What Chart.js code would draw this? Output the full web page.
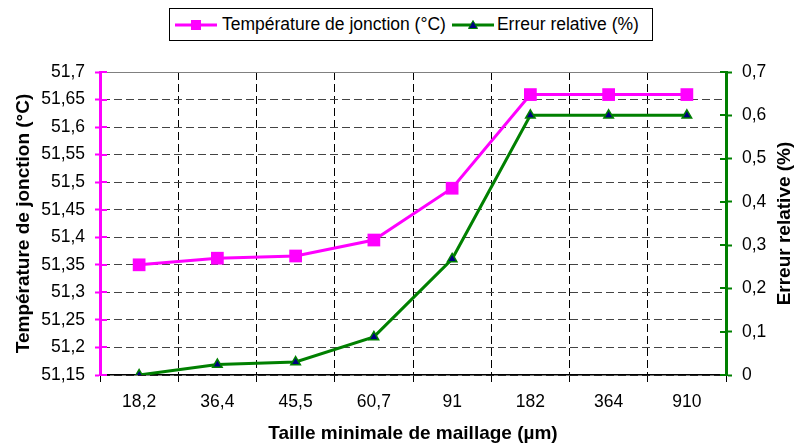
<!DOCTYPE html>
<html>
<head>
<meta charset="utf-8">
<script src="https://cdn.jsdelivr.net/npm/chart.js@4"></script>
<style>
html,body{margin:0;padding:0;background:#fff;}
#wrap{position:relative;width:795px;height:445px;overflow:hidden;}
#chart{position:absolute;left:0;top:0;}
#legend{position:absolute;left:169px;top:8px;width:484px;height:33px;border:1px solid #000;box-sizing:border-box;display:flex;align-items:center;font-family:"Liberation Sans",Arial,sans-serif;font-size:17.5px;padding:0 0 0 5px;white-space:nowrap;background:#fff;color:#000;}
#legend svg{flex:none;}
#legend span{margin-left:5px;margin-right:6px;}
</style>
</head>
<body>
<div id="wrap">
  <canvas id="chart" width="795" height="445"></canvas>
  <div id="legend"></div>
</div>
<script>
// ---- Data ----
const categories = ['18,2', '36,4', '45,5', '60,7', '91', '182', '364', '910'];
const temperature = [51.35, 51.362, 51.366, 51.395, 51.489, 51.659, 51.659, 51.659];
const relativeError = [0, 0.024, 0.03, 0.088, 0.268, 0.6, 0.6, 0.6];
const leftTicks = [51.15, 51.2, 51.25, 51.3, 51.35, 51.4, 51.45, 51.5, 51.55, 51.6, 51.65, 51.7];
const rightTicks = [0, 0.1, 0.2, 0.3, 0.4, 0.5, 0.6, 0.7];
const seriesNames = ['Température de jonction (°C)', 'Erreur relative (%)'];
const xTitle = 'Taille minimale de maillage (µm)';
const leftTitle = 'Température de jonction (°C)';
const rightTitle = 'Erreur relative (%)';

const MAGENTA = '#FF00FF', GREEN = '#008000', NAVY = '#000080';
const FONT = '"Liberation Sans", Arial, sans-serif';

function fmt(v, d) {
  return String(Number(v.toFixed(d))).replace('.', ',');
}

// ---- HTML legend ----
const legend = document.getElementById('legend');
legend.innerHTML =
  '<svg width="42" height="14"><line x1="0" y1="7" x2="42" y2="7" stroke="' + MAGENTA + '" stroke-width="3"/>' +
  '<rect x="16" y="2" width="10" height="10" fill="' + MAGENTA + '"/></svg>' +
  '<span>' + seriesNames[0] + '</span>' +
  '<svg width="42" height="14"><line x1="0" y1="7" x2="42" y2="7" stroke="' + GREEN + '" stroke-width="3"/>' +
  '<polygon points="21,2.5 25.5,10.5 16.5,10.5" fill="' + NAVY + '" stroke="' + GREEN + '" stroke-width="1"/></svg>' +
  '<span style="margin-left:3px">' + seriesNames[1] + '</span>';

Chart.defaults.font.family = FONT;
Chart.defaults.color = '#000';

const framePlugin = {
  id: 'frame',
  beforeDatasetsDraw(chart) {
    const {ctx, chartArea: a, scales} = chart;
    ctx.save();
    // top frame line (solid grey)
    ctx.strokeStyle = '#808080';
    ctx.lineWidth = 1;
    const ty = Math.round(a.top) + 0.5;
    ctx.beginPath(); ctx.moveTo(a.left, ty); ctx.lineTo(a.right, ty); ctx.stroke();
    // inward portions of the axis tick marks
    ctx.lineWidth = 2;
    ctx.strokeStyle = MAGENTA;
    scales.y.ticks.forEach(t => {
      const py = Math.round(scales.y.getPixelForValue(t.value));
      ctx.beginPath(); ctx.moveTo(a.left, py); ctx.lineTo(a.left + 7, py); ctx.stroke();
    });
    ctx.strokeStyle = GREEN;
    scales.y1.ticks.forEach(t => {
      const py = Math.round(scales.y1.getPixelForValue(t.value));
      ctx.beginPath(); ctx.moveTo(a.right - 6, py); ctx.lineTo(a.right, py); ctx.stroke();
    });
    ctx.restore();
  },
  afterDraw(chart) {
    const {ctx, chartArea: a} = chart;
    ctx.save();
    ctx.font = 'bold 19px ' + FONT;
    ctx.fillStyle = '#000';
    ctx.textAlign = 'center';
    ctx.textBaseline = 'middle';
    ctx.translate(785, (a.top + a.bottom) / 2);
    ctx.rotate(-Math.PI / 2);
    ctx.fillText(rightTitle, 0, 0);
    ctx.restore();
  }
};

new Chart(document.getElementById('chart'), {
  type: 'line',
  data: {
    labels: categories,
    datasets: [
      {
        label: seriesNames[0],
        data: temperature,
        yAxisID: 'y',
        borderColor: MAGENTA,
        backgroundColor: MAGENTA,
        borderWidth: 3,
        pointStyle: 'rect',
        pointRadius: 9,
        pointHoverRadius: 9,
        pointBackgroundColor: MAGENTA,
        pointBorderWidth: 0,
        tension: 0
      },
      {
        label: seriesNames[1],
        data: relativeError,
        yAxisID: 'y1',
        borderColor: GREEN,
        backgroundColor: NAVY,
        borderWidth: 3,
        pointStyle: 'triangle',
        pointRadius: 5.5,
        pointHoverRadius: 5.5,
        pointBackgroundColor: NAVY,
        pointBorderColor: GREEN,
        pointBorderWidth: 1.5,
        tension: 0
      }
    ]
  },
  options: {
    responsive: false,
    animation: false,
    devicePixelRatio: 1,
    layout: {padding: {top: 72, left: 0, right: 0, bottom: 0}},
    plugins: {legend: {display: false}, tooltip: {enabled: false}},
    scales: {
      x: {
        type: 'category',
        offset: true,
        afterFit(s) { s.height = 70; },
        grid: {offset: true, color: '#000', lineWidth: 1, drawTicks: true, tickLength: 7, tickColor: '#000', tickWidth: 1},
        border: {display: true, color: '#000', width: 1.5, dash: [8, 4]},
        ticks: {color: '#000', font: {size: 17.5}, padding: 10, maxRotation: 0, autoSkip: false},
        title: {display: true, text: xTitle, color: '#000', font: {size: 19, weight: 'bold'}, padding: {top: 0, bottom: 0}}
      },
      y: {
        position: 'left',
        min: leftTicks[0],
        max: leftTicks[leftTicks.length - 1],
        afterFit(s) { s.width = 100; },
        afterBuildTicks(s) { s.ticks = leftTicks.map(v => ({value: v})); },
        grid: {color: '#444', lineWidth: 1, drawTicks: true, tickLength: 5, tickColor: MAGENTA, tickWidth: 2},
        border: {display: true, color: MAGENTA, width: 3, dash: [8, 4]},
        ticks: {color: '#000', font: {size: 17.5}, padding: 10, callback: v => fmt(v, 2)},
        title: {display: true, text: leftTitle, color: '#000', font: {size: 19, weight: 'bold'}, padding: {top: 12, bottom: 0}}
      },
      y1: {
        position: 'right',
        min: rightTicks[0],
        max: rightTicks[rightTicks.length - 1],
        afterFit(s) { s.width = 69; },
        afterBuildTicks(s) { s.ticks = rightTicks.map(v => ({value: v})); },
        grid: {drawOnChartArea: false, drawTicks: true, tickLength: 6, tickColor: GREEN, tickWidth: 2},
        border: {display: true, color: GREEN, width: 3},
        ticks: {color: '#000', font: {size: 17.5}, padding: 10, callback: v => fmt(v, 1)},
        title: {display: false}
      }
    }
  },
  plugins: [framePlugin]
});
</script>
</body>
</html>
